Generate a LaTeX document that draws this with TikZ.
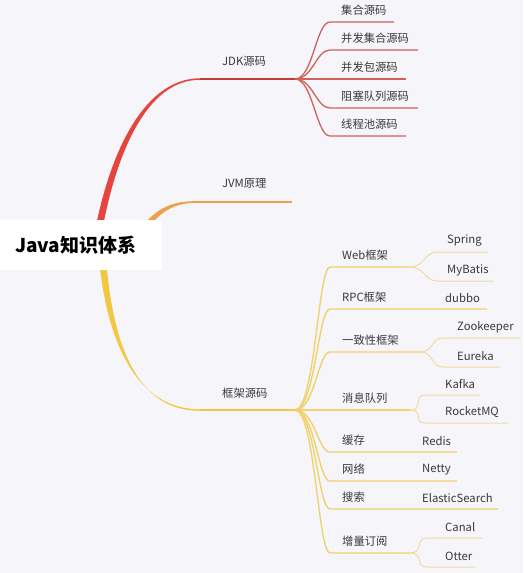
\documentclass[tikz,border=0pt]{standalone}
\usepackage{fontspec}
\setmainfont{Noto Sans CJK SC}
\usetikzlibrary{calc}
\definecolor{bg}{HTML}{F5F5FA}
\definecolor{redmain}{HTML}{E5453D}
\definecolor{redsub}{HTML}{D0625C}
\definecolor{orangemain}{HTML}{EE9F4A}
\definecolor{yelmain}{HTML}{F2C743}
\definecolor{yelsub}{HTML}{F0D26E}
\definecolor{yelthird}{HTML}{EFDDA0}
\definecolor{txt}{HTML}{3A3A3A}
\tikzset{
  lbl/.style={anchor=west, inner sep=0pt, text=txt, font=\fontsize{11.3}{12}\selectfont},
  rootlbl/.style={anchor=west, inner sep=0pt, text=black, font=\fontsize{19}{20}\selectfont\bfseries},
  redline/.style={draw=redsub, line width=1.3pt},
  redlvl1/.style={draw=redmain!85!black, line width=1.6pt},
  oraline/.style={draw=orangemain, line width=1.5pt},
  yelline/.style={draw=yelsub, line width=1.4pt},
  yellvl1/.style={draw=yelmain, line width=1.6pt},
  yel3/.style={draw=yelthird, line width=1pt},
}
\begin{document}
\begin{tikzpicture}[x=1pt,y=-1pt]
\fill[bg] (0,0) rectangle (523,573);
\useasboundingbox (0,0) rectangle (523,573);

% ---- main branches (tapered)
\fill[redmain] (97,221) .. controls (112,150) and (145,78.3) .. (200,78.3)
   -- (200,79.8) .. controls (147,79.8) and (118,152) .. (104,221) -- cycle;
\fill[orangemain] (148,220) .. controls (162,205) and (178,201.2) .. (195,201.2)
   -- (195,202.8) .. controls (180,202.8) and (166,208) .. (154,221) -- cycle;
\fill[yelmain] (100,269) .. controls (110,350) and (140,409.3) .. (200,409.3)
   -- (200,410.8) .. controls (142,411) and (115,355) .. (107,269) -- cycle;

% ---- root
\node[fill=white, minimum width=162pt, minimum height=50pt, inner sep=0pt, anchor=north west] (rootbox) at (0,220) {};
\node[rootlbl] (root) at (15,245) {Java知识体系};

% ---- JDK
\coordinate (jdks) at (200,79);
\coordinate (jdkhub) at (295,79);
\draw[redlvl1] (jdks) -- (jdkhub);
\node[lbl] (jdk) at (222,61) {JDK源码};
\foreach \n/\y/\xe/\t in {ra/22/394/集合源码, rb/50/418/并发集合源码, rc/79/406/并发包源码, rd/108/418/阻塞队列源码, re/136/406/线程池源码}{
  \coordinate (\n s) at (330,\y);
  \coordinate (\n e) at (\xe,\y);
  \node[lbl] (\n t) at (341,\y-11.5) {\t};
  \draw[redline] (jdkhub) .. controls +(18,0) and +(-14,0) .. (\n s) -- (\n e);
}

% ---- JVM
\coordinate (jvms) at (195,202);
\coordinate (jvme) at (292,202);
\draw[oraline] (jvms) -- (jvme);
\node[lbl] (jvm) at (222,183.5) {JVM原理};

% ---- framework
\coordinate (fws) at (200,410);
\coordinate (fwhub) at (295,410);
\draw[yellvl1] (fws) -- (fwhub);
\node[lbl] (fw) at (222,393) {框架源码};

\foreach \n/\y/\xe/\t in {ya/267/410/Web框架, yb/309/487/RPC框架, yc/352/420/一致性框架, yd/410/410/消息队列, ye/452/457/缓存, yf/481/457/网络, yg/509/498/搜索, yh/553/410/增量订阅}{
  \coordinate (\n s) at (330,\y);
  \coordinate (\n e) at (\xe,\y);
  \node[lbl] (\n t) at (342,\y-11.5) {\t};
  \draw[yelline] (fwhub) .. controls +(20,0) and +(-12,0) .. (\n s) -- (\n e);
}

% leaf labels on the same line
\node[lbl] (dubbo) at (445,298.5) {dubbo};
\node[lbl] (redis) at (422,441) {Redis};
\node[lbl] (netty) at (422,470) {Netty};
\node[lbl] (es) at (422,498.5) {ElasticSearch};

% third level
\foreach \p/\n/\y/\xs/\xe/\tx/\t in {
  ya/la/252/437/488/447/Spring, ya/lb/281/437/493/447/MyBatis,
  yc/lc/338/443/520/457/Zookeeper, yc/ld/367/443/500/457/Eureka,
  yd/le/395/425/480/445/Kafka, yd/lf/423/425/508/445/RocketMQ,
  yh/lg/538/427/482/445/Canal, yh/lh/567/427/475/445/Otter}{
  \coordinate (\n s) at (\xs,\y);
  \coordinate (\n e) at (\xe,\y);
  \node[lbl] (\n t) at (\tx,\y-11) {\t};
  \draw[yel3] (\p e) .. controls +(14,0) and +(-12,0) .. (\n s) -- (\n e);
}
\end{tikzpicture}
\end{document}
